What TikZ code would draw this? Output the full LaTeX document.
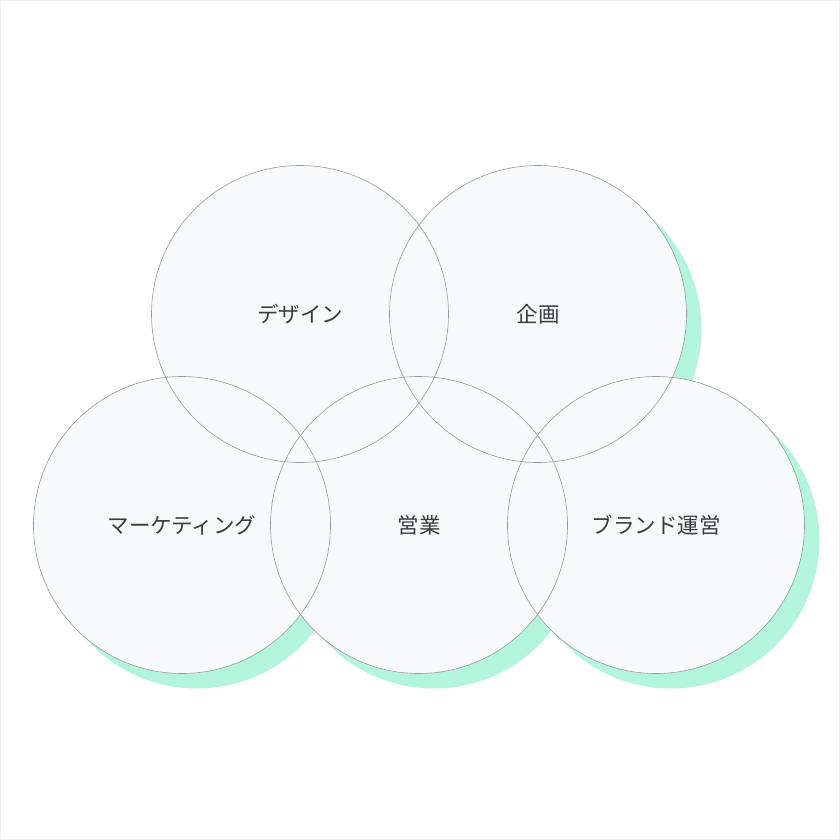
\documentclass[tikz,border=0pt]{standalone}
\usepackage{fontspec}
\setmainfont{Noto Sans CJK JP}
\definecolor{shade}{HTML}{B2F5DC}
\definecolor{disc}{HTML}{F8F9FB}
\definecolor{rim}{HTML}{9A9A9A}
\definecolor{ink}{HTML}{383B42}
\definecolor{frame}{HTML}{EEEEEE}
\begin{document}
\begin{tikzpicture}[x=1pt, y=-1pt,
    ring/.style={circle, minimum size=297pt, inner sep=0pt, outer sep=0pt},
    shadowring/.style={ring, fill=shade},
    fillring/.style={ring, fill=disc},
    linering/.style={ring, draw=rim, line width=0.6pt, text=ink, font=\fontsize{21.5}{25}\selectfont}]
    \draw[frame, line width=1pt, fill=white] (0.5,0.5) rectangle (839.5,839.5);
    \useasboundingbox (0,0) rectangle (840,840);
    % shadows
    \foreach \n/\x/\y in {a/300/314, b/538/314, c/182/525, d/419/525, e/656/525}
        \node (sh\n) [shadowring] at (\x+15,\y+15) {};
    % discs
    \foreach \n/\x/\y in {a/300/314, b/538/314, c/182/525, d/419/525, e/656/525}
        \node (bg\n) [fillring] at (\x,\y) {};
    % outlines and labels
    \node (design) [linering] at (bga) {デザイン};
    \node (plan) [linering] at (bgb) {企画};
    \node (marketing) [linering] at (bgc) {マーケティング};
    \node (sales) [linering] at (bgd) {営業};
    \node (brand) [linering] at (bge) {ブランド運営};
\end{tikzpicture}
\end{document}
